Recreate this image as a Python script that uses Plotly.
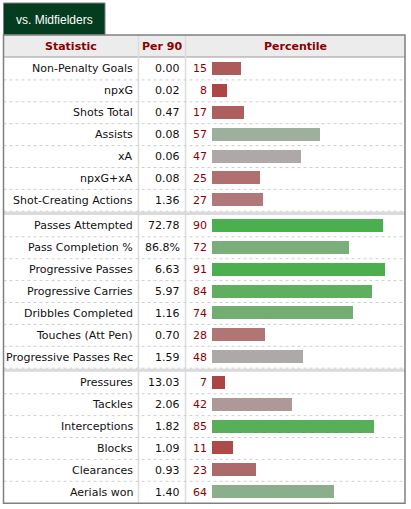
import plotly.graph_objects as go

# ---------------- data ----------------
statistics = ["Non-Penalty Goals", "npxG", "Shots Total", "Assists", "xA", "npxG+xA",
              "Shot-Creating Actions",
              "Passes Attempted", "Pass Completion %", "Progressive Passes",
              "Progressive Carries", "Dribbles Completed", "Touches (Att Pen)",
              "Progressive Passes Rec",
              "Pressures", "Tackles", "Interceptions", "Blocks", "Clearances", "Aerials won"]
per90 = ["0.00", "0.02", "0.47", "0.08", "0.06", "0.08", "1.36",
         "72.78", "86.8%", "6.63", "5.97", "1.16", "0.70", "1.59",
         "13.03", "2.06", "1.82", "1.09", "0.93", "1.40"]
percentile = [15, 8, 17, 57, 47, 25, 27,
              90, 72, 91, 84, 74, 28, 48,
              7, 42, 85, 11, 23, 64]
group_sizes = [7, 7, 6]
bar_colors = ["#ad5a5a", "#ad4545", "#ae5e5e", "#9daf9d", "#aea8a8", "#b07070", "#b07878",
              "#4caf4f", "#7aae7a", "#4aaf4c", "#5faf5f", "#72ae72", "#b07676", "#aea9a9",
              "#ad4444", "#ae9898", "#59ae59", "#ad4b4b", "#ad6a6a", "#8baf8b"]
headers = ["Statistic", "Per 90", "Percentile"]
tab_title = "vs. Midfielders"

# ---------------- layout geometry (pixels) ----------------
W, H = 411, 509
L, R = 3.5, 405
TAB_R = 105
TAB_T, HDR_T, HDR_B = 3, 35, 57
ROW_H = 21.9
SEP_H = 3.6
COL1, COL2 = 138.5, 185.5
BAR_X0, BAR_X1 = 212, 402
BAR_H = 13


def px(x):
    return x / W


def py(y):
    return 1 - y / H


row_top = []
y = HDR_B + 1
for gi, n in enumerate(group_sizes):
    for k in range(n):
        row_top.append(y)
        y += ROW_H
    if gi < len(group_sizes) - 1:
        y += SEP_H
TABLE_B = y
row_mid = [t + ROW_H / 2 for t in row_top]

FONT = "DejaVu Sans, Verdana, sans-serif"
MAROON = "#8b0000"

shapes = []
annotations = []


def rect(x0, x1, y0, y1, **kw):
    d = dict(type="rect", xref="paper", yref="paper",
             x0=px(x0), x1=px(x1), y0=py(y1), y1=py(y0))
    d.update(kw)
    shapes.append(d)


def line(x0, x1, y0, y1, **kw):
    d = dict(type="line", xref="paper", yref="paper",
             x0=px(x0), x1=px(x1), y0=py(y0), y1=py(y1))
    d.update(kw)
    shapes.append(d)


def text(x, y, t, anchor, size=11, color="#111111", family=FONT):
    annotations.append(dict(xref="paper", yref="paper", x=px(x), y=py(y), text=t,
                            showarrow=False, xanchor=anchor, yanchor="middle",
                            font=dict(family=family, size=size, color=color)))


# tab
rect(L, TAB_R, TAB_T, HDR_T, fillcolor="#043c1f",
     line=dict(color="#7f7f7f", width=1), layer="below")
text((L + TAB_R) / 2, (TAB_T + HDR_T) / 2 + 1, tab_title, "center", size=12,
     color="white", family="Liberation Sans, Arial, sans-serif")
# header background
rect(L, R, HDR_T, HDR_B, fillcolor="#ececec", line=dict(width=0), layer="below")
line(L, R, HDR_B, HDR_B, line=dict(color="#9a9a9a", width=1), layer="below")
hdr_x = [(L + COL1) / 2, (COL1 + COL2) / 2, (COL2 + R) / 2]
for hx, ht in zip(hdr_x, headers):
    text(hx, (HDR_T + HDR_B) / 2 + 0.5, "<b>%s</b>" % ht, "center", color=MAROON)

# vertical column lines
for cx in (COL1, COL2):
    line(cx, cx, HDR_T, TABLE_B, line=dict(color="#dcdcdc", width=1.5), layer="below")

# row dotted separators and group separators
idx = 0
for gi, n in enumerate(group_sizes):
    for k in range(n):
        bottom = row_top[idx] + ROW_H
        if not (gi == len(group_sizes) - 1 and k == n - 1):
            line(L, R, bottom, bottom,
                 line=dict(color="#cfcfcf", width=1, dash="dot"), layer="below")
        idx += 1
    if gi < len(group_sizes) - 1:
        b = row_top[idx - 1] + ROW_H
        rect(L, R, b + 0.5, b + SEP_H, fillcolor="#dadada", line=dict(width=0), layer="above")

# outer border
rect(L, R, HDR_T, TABLE_B, line=dict(color="#808080", width=1.5),
     fillcolor="rgba(0,0,0,0)", layer="above")

# row texts
for i in range(len(statistics)):
    ym = row_mid[i]
    text(COL1 - 4, ym, statistics[i], "right")
    text(COL2 - 4, ym, per90[i], "right")
    text(BAR_X0 - 3, ym, str(percentile[i]), "right", color=MAROON)

fig = go.Figure()
fig.add_trace(go.Bar(x=percentile, y=[m - 0.5 for m in row_mid], orientation="h",
                     width=BAR_H, marker=dict(color=bar_colors, line=dict(width=0)),
                     hoverinfo="skip", showlegend=False))

fig.update_layout(
    width=W, height=H, margin=dict(l=0, r=0, t=0, b=0),
    paper_bgcolor="white", plot_bgcolor="rgba(0,0,0,0)",
    xaxis=dict(range=[0, 100], domain=[BAR_X0 / W, BAR_X1 / W], visible=False,
               fixedrange=True),
    yaxis=dict(range=[H, 0], domain=[0, 1], visible=False, fixedrange=True),
    shapes=shapes, annotations=annotations, bargap=0,
)
fig.write_html("out.html")
